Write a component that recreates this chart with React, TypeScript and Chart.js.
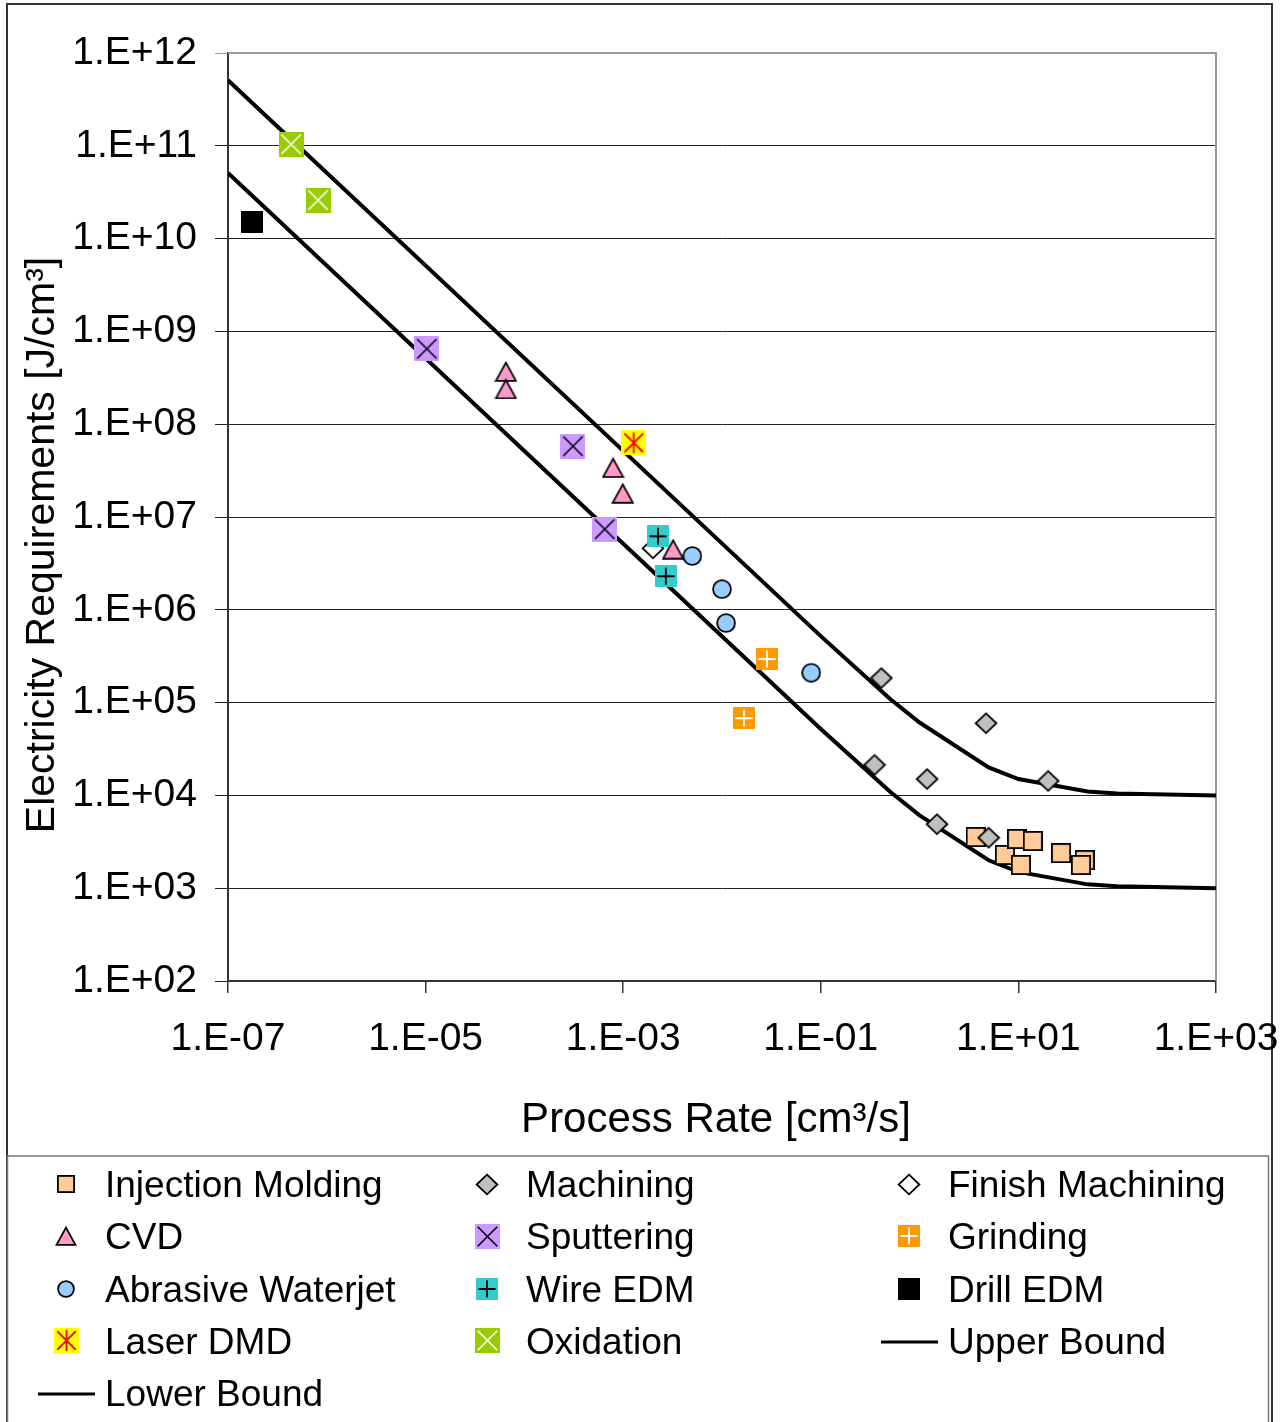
import React, { useEffect, useRef } from 'react';
import { Chart, registerables } from 'chart.js';

Chart.register(...registerables);

const FONT = "'Liberation Sans', Arial, Helvetica, sans-serif";

// ---------------- data ----------------
// [process rate cm^3/s, electricity requirement J/cm^3]
const injectionMolding: [number, number][] = [
  [3.7, 3560], [7.3, 2280], [9.7, 3390], [14, 3230], [10.6, 1780], [27, 2390], [47, 2010], [43, 1780],
];
const machining: [number, number][] = [
  [0.41, 1.84e5], [4.7, 6.0e4], [0.35, 2.13e4], [1.19, 1.5e4], [20, 1.43e4], [1.5, 4.9e3], [5.0, 3.5e3],
];
const finishMachining: [number, number][] = [[2.0e-3, 4.6e6]];
const cvd: [number, number][] = [
  [6.5e-5, 3.7e8], [6.5e-5, 2.4e8], [7.9e-4, 3.4e7], [9.9e-4, 1.8e7], [3.2e-3, 4.5e6],
];
const sputtering: [number, number][] = [[1.03e-5, 6.5e8], [3.1e-4, 5.8e7], [6.5e-4, 7.4e6]];
const grinding: [number, number][] = [[2.85e-2, 2.95e5], [1.67e-2, 6.8e4]];
const abrasiveWaterjet: [number, number][] = [
  [5.0e-3, 3.8e6], [1.0e-2, 1.67e6], [1.1e-2, 7.2e5], [8.0e-2, 2.1e5],
];
const wireEDM: [number, number][] = [[2.25e-3, 6.2e6], [2.7e-3, 2.3e6]];
const drillEDM: [number, number][] = [[1.75e-7, 1.5e10]];
const laserDMD: [number, number][] = [[1.28e-3, 6.3e7]];
const oxidation: [number, number][] = [[4.35e-7, 1.04e11], [8.15e-7, 2.6e10]];
const upperBound: [number, number][] = [
  [1e-7, 5.1e11], [1e-1, 5.2e5], [0.5, 1.1e5], [1, 6.1e4], [5, 2.0e4], [10, 1.5e4], [50, 1.1e4], [100, 1.05e4], [1000, 1.0e4],
];
const lowerBound: [number, number][] = [
  [1e-7, 5.1e10], [1e-1, 5.2e4], [0.5, 1.1e4], [1, 6.1e3], [5, 2.0e3], [10, 1.5e3], [50, 1.1e3], [100, 1.05e3], [1000, 1.0e3],
];

const xTickValues = [1e-7, 1e-5, 1e-3, 1e-1, 1e1, 1e3];
const yTickValues = [1e2, 1e3, 1e4, 1e5, 1e6, 1e7, 1e8, 1e9, 1e10, 1e11, 1e12];

const xTitle = 'Process Rate [cm³/s]';
const yTitle = 'Electricity Requirements [J/cm³]';

// ---------------- marker styles ----------------
type Kind = 'square' | 'diamond' | 'triangle' | 'circle' | 'boxX' | 'boxPlus' | 'boxStar' | 'solid' | 'line';
interface MarkerSpec { kind: Kind; fill: string; line?: string; w: number; h: number; legendScale?: number; }

interface SeriesDef { label: string; data: [number, number][]; marker: MarkerSpec; }

const SERIES: SeriesDef[] = [
  { label: 'Injection Molding', data: injectionMolding, marker: { kind: 'square', fill: '#FFCC99', w: 20, h: 20, legendScale: 0.88 } },
  { label: 'Machining', data: machining, marker: { kind: 'diamond', fill: '#C0C0C0', w: 24, h: 23, legendScale: 1 } },
  { label: 'Finish Machining', data: finishMachining, marker: { kind: 'diamond', fill: '#FFFFFF', w: 24, h: 23, legendScale: 1.02 } },
  { label: 'CVD', data: cvd, marker: { kind: 'triangle', fill: '#FF99CC', w: 23, h: 21, legendScale: 0.95 } },
  { label: 'Sputtering', data: sputtering, marker: { kind: 'boxX', fill: '#CC99FF', line: '#000000', w: 25, h: 25, legendScale: 0.98 } },
  { label: 'Grinding', data: grinding, marker: { kind: 'boxPlus', fill: '#FF9900', line: '#FFFFFF', w: 22, h: 22, legendScale: 1 } },
  { label: 'Abrasive Waterjet', data: abrasiveWaterjet, marker: { kind: 'circle', fill: '#99CCFF', w: 20, h: 20, legendScale: 0.92 } },
  { label: 'Wire EDM', data: wireEDM, marker: { kind: 'boxPlus', fill: '#33CCCC', line: '#000000', w: 22, h: 22, legendScale: 1 } },
  { label: 'Drill EDM', data: drillEDM, marker: { kind: 'solid', fill: '#000000', w: 22, h: 22, legendScale: 1 } },
  { label: 'Laser DMD', data: laserDMD, marker: { kind: 'boxStar', fill: '#FFFF00', line: '#FF0000', w: 25, h: 25, legendScale: 0.98 } },
  { label: 'Oxidation', data: oxidation, marker: { kind: 'boxX', fill: '#99CC00', line: '#FFFFFF', w: 25, h: 25, legendScale: 0.98 } },
  { label: 'Upper Bound', data: upperBound, marker: { kind: 'line', fill: '#000000', w: 57, h: 4 } },
  { label: 'Lower Bound', data: lowerBound, marker: { kind: 'line', fill: '#000000', w: 57, h: 4 } },
];

function makeMarker(spec: MarkerSpec, scale = 1): HTMLCanvasElement {
  const w = Math.max(2, Math.round(spec.w * scale));
  const h = spec.kind === 'line' ? spec.h : Math.max(2, Math.round(spec.h * scale));
  const c = document.createElement('canvas');
  c.width = w;
  c.height = h;
  const ctx = c.getContext('2d')!;
  const lw = 1.8;
  ctx.strokeStyle = '#000';
  ctx.lineWidth = lw;
  ctx.fillStyle = spec.fill;
  ctx.lineJoin = 'miter';
  switch (spec.kind) {
    case 'square':
      ctx.fillRect(0, 0, w, h);
      ctx.strokeRect(lw / 2, lw / 2, w - lw, h - lw);
      break;
    case 'diamond': {
      const m = lw * 0.9;
      ctx.beginPath();
      ctx.moveTo(w / 2, m);
      ctx.lineTo(w - m, h / 2);
      ctx.lineTo(w / 2, h - m);
      ctx.lineTo(m, h / 2);
      ctx.closePath();
      ctx.fill();
      ctx.stroke();
      break;
    }
    case 'triangle': {
      const m = lw;
      ctx.beginPath();
      ctx.moveTo(w / 2, m * 0.9);
      ctx.lineTo(w - m * 0.8, h - m / 2 - 0.2);
      ctx.lineTo(m * 0.8, h - m / 2 - 0.2);
      ctx.closePath();
      ctx.fill();
      ctx.stroke();
      break;
    }
    case 'circle':
      ctx.beginPath();
      ctx.arc(w / 2, h / 2, w / 2 - lw / 2 - 0.2, 0, Math.PI * 2);
      ctx.fill();
      ctx.stroke();
      break;
    case 'solid':
      ctx.fillRect(0, 0, w, h);
      break;
    case 'boxX': {
      ctx.fillRect(0, 0, w, h);
      const m = w * 0.11;
      ctx.strokeStyle = spec.line || '#000';
      ctx.lineWidth = 1.6;
      ctx.beginPath();
      ctx.moveTo(m, m);
      ctx.lineTo(w - m, h - m);
      ctx.moveTo(w - m, m);
      ctx.lineTo(m, h - m);
      ctx.stroke();
      break;
    }
    case 'boxPlus': {
      ctx.fillRect(0, 0, w, h);
      const m = w * 0.11;
      ctx.strokeStyle = spec.line || '#000';
      ctx.lineWidth = 1.8;
      ctx.beginPath();
      ctx.moveTo(w / 2, m);
      ctx.lineTo(w / 2, h - m);
      ctx.moveTo(m, h / 2);
      ctx.lineTo(w - m, h / 2);
      ctx.stroke();
      break;
    }
    case 'boxStar': {
      ctx.fillRect(0, 0, w, h);
      const m = w * 0.13;
      ctx.strokeStyle = spec.line || '#f00';
      ctx.lineWidth = 1.8;
      ctx.beginPath();
      ctx.moveTo(m, m);
      ctx.lineTo(w - m, h - m);
      ctx.moveTo(w - m, m);
      ctx.lineTo(m, h - m);
      ctx.moveTo(w / 2, m * 0.6);
      ctx.lineTo(w / 2, h - m * 0.6);
      ctx.stroke();
      break;
    }
    case 'line':
      ctx.fillRect(0, 0.5, w, h - 1);
      break;
  }
  return c;
}

function fmtExp(v: number): string {
  const e = Math.round(Math.log10(v));
  const sign = e < 0 ? '-' : '+';
  return `1.E${sign}${String(Math.abs(e)).padStart(2, '0')}`;
}

export default function App() {
  const ref = useRef<HTMLCanvasElement | null>(null);

  useEffect(() => {
    const canvas = ref.current;
    if (!canvas) return;

    const chartMarkers = SERIES.map((s) => makeMarker(s.marker, 1));
    const legendMarkers = SERIES.map((s) => makeMarker(s.marker, s.marker.legendScale ?? 1));

    const datasets: any[] = SERIES.map((s, i) => {
      const pts = s.data.map(([x, y]) => ({ x, y }));
      if (s.marker.kind === 'line') {
        return {
          label: s.label,
          data: pts,
          showLine: true,
          borderColor: '#000',
          borderWidth: 4,
          pointRadius: 0,
          pointHoverRadius: 0,
          tension: 0,
          order: 100 + i,
        };
      }
      return {
        label: s.label,
        data: pts,
        showLine: false,
        pointStyle: chartMarkers[i],
        pointRadius: 10,
        pointHoverRadius: 10,
        order: 50 - i,
      };
    });

    const framePlugin = {
      id: 'framePlugin',
      beforeDraw(chart: any) {
        const ctx = chart.ctx as CanvasRenderingContext2D;
        ctx.save();
        ctx.fillStyle = '#fff';
        ctx.fillRect(0, 0, chart.width, chart.height);
        ctx.strokeStyle = '#333';
        ctx.lineWidth = 2;
        ctx.strokeRect(7, 4, 1265, 1500);
        ctx.strokeStyle = '#777';
        ctx.lineWidth = 1.5;
        ctx.strokeRect(7.5, 1156, 1261, 400);
        ctx.restore();
      },
      beforeDatasetsDraw(chart: any) {
        const ctx = chart.ctx as CanvasRenderingContext2D;
        const { left, top, right, bottom } = chart.chartArea;
        ctx.save();
        ctx.strokeStyle = '#999';
        ctx.lineWidth = 2;
        ctx.beginPath();
        ctx.moveTo(left, top);
        ctx.lineTo(right, top);
        ctx.lineTo(right, bottom);
        ctx.stroke();
        ctx.restore();
      },
      afterDraw(chart: any) {
        const ctx = chart.ctx as CanvasRenderingContext2D;
        ctx.save();
        ctx.fillStyle = '#000';
        // axis titles
        ctx.font = `42px ${FONT}`;
        ctx.textAlign = 'center';
        ctx.textBaseline = 'alphabetic';
        ctx.fillText(xTitle, 716, 1132);
        ctx.font = `41px ${FONT}`;
        ctx.save();
        ctx.translate(54, 545);
        ctx.rotate(-Math.PI / 2);
        ctx.fillText(yTitle, 0, 0);
        ctx.restore();

        // legend
        const colMarkerX = [66, 487, 909];
        const colTextX = [105, 526, 948];
        const rowStep = 52.3;
        ctx.font = `37px ${FONT}`;
        ctx.textAlign = 'left';
        SERIES.forEach((s, i) => {
          const col = i % 3;
          const row = Math.floor(i / 3);
          const cy = 1184 + row * rowStep;
          const base = 1197 + row * rowStep;
          const m = legendMarkers[i];
          const mx = colMarkerX[col];
          const my = s.marker.kind === 'line' ? cy + 1 : cy;
          ctx.drawImage(m, Math.round(mx - m.width / 2), Math.round(my - m.height / 2));
          ctx.fillText(s.label, colTextX[col], base);
        });
        ctx.restore();
      },
    };

    const chart = new Chart(canvas, {
      type: 'scatter',
      data: { datasets },
      options: {
        animation: false,
        responsive: false,
        devicePixelRatio: 1,
        events: [],
        layout: { padding: { left: 0, top: 53, right: 67, bottom: 342 } },
        plugins: {
          legend: { display: false },
          tooltip: { enabled: false },
          title: { display: false },
        },
        scales: {
          x: {
            type: 'logarithmic',
            position: 'bottom',
            min: 1e-7,
            max: 1e3,
            afterBuildTicks: (s: any) => {
              s.ticks = xTickValues.map((v) => ({ value: v }));
            },
            afterFit: (s: any) => {
              s.height = 99;
              s.paddingLeft = 0;
              s.paddingRight = 0;
            },
            ticks: {
              callback: (v: any) => fmtExp(Number(v)),
              autoSkip: false,
              maxRotation: 0,
              minRotation: 0,
              padding: 23,
              color: '#000',
              font: { family: FONT, size: 39 },
            },
            grid: {
              drawOnChartArea: false,
              drawTicks: true,
              tickLength: 12,
              color: '#333',
              lineWidth: 1.5,
            },
            border: { display: true, color: '#333', width: 2 },
          },
          y: {
            type: 'logarithmic',
            position: 'left',
            min: 1e2,
            max: 1e12,
            afterBuildTicks: (s: any) => {
              s.ticks = yTickValues.map((v) => ({ value: v }));
            },
            afterFit: (s: any) => {
              s.width = 228;
              s.paddingTop = 0;
              s.paddingBottom = 0;
            },
            ticks: {
              callback: (v: any) => fmtExp(Number(v)),
              autoSkip: false,
              padding: 18,
              color: '#000',
              font: { family: FONT, size: 39 },
            },
            grid: {
              drawTicks: true,
              tickLength: 13,
              lineWidth: 1,
              color: (c: any) => (c.tick && c.tick.value === 1e12 ? '#999' : '#222'),
            },
            border: { display: true, color: '#333', width: 2 },
          },
        },
      } as any,
      plugins: [framePlugin],
    });

    return () => {
      chart.destroy();
    };
  }, []);

  return (
    <div style={{ position: 'absolute', left: 0, top: 0, width: 1283, height: 1422, background: '#fff' }}>
      <canvas ref={ref} width={1283} height={1422} style={{ display: 'block', width: 1283, height: 1422 }} />
    </div>
  );
}
